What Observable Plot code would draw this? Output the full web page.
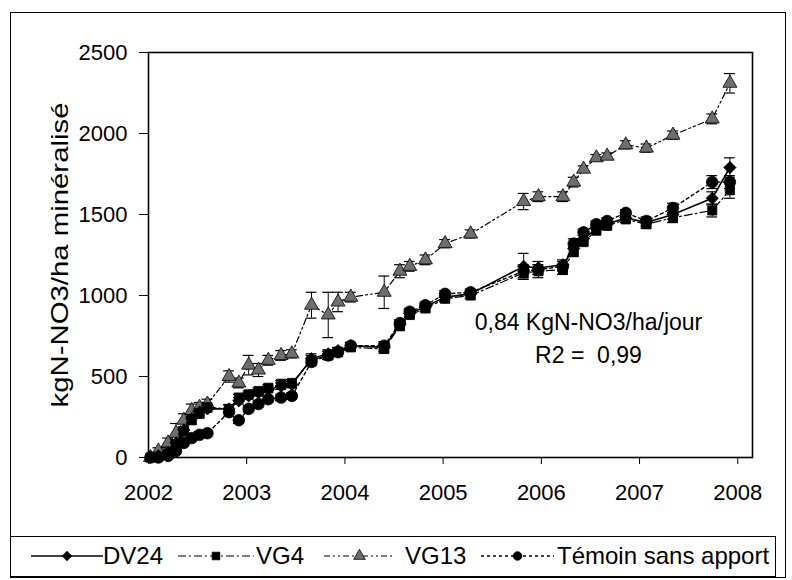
<!DOCTYPE html>
<html>
<head>
<meta charset="utf-8">
<script src="https://cdn.jsdelivr.net/npm/d3@7"></script>
<script src="https://cdn.jsdelivr.net/npm/@observablehq/plot@0.6"></script>
<style>
  html, body { margin: 0; padding: 0; background: #fff; }
  body { width: 792px; height: 580px; position: relative; overflow: hidden; font-family: "Liberation Sans", Arial, sans-serif; }
  #chart { position: absolute; left: 0; top: 0; }
  #outer { position: absolute; left: 10px; top: 12px; width: 776px; height: 566px; border: 1.5px solid #000; box-sizing: border-box; pointer-events: none; }
  #legend { position: absolute; left: 10px; top: 536px; width: 766px; height: 41px; border: 1.5px solid #000; box-sizing: border-box; background: #fff; }
  .lg { position: absolute; top: 0; height: 38px; line-height: 38px; font-family: "Liberation Sans", Arial, sans-serif; font-size: 24px; color: #000; white-space: nowrap; }
  .sw { position: absolute; top: 0; }
</style>
</head>
<body>
<div id="chart"></div>
<div id="outer"></div>
<div id="legend"></div>
<script>
// ---- data ----
const dates  = [2002.02, 2002.1, 2002.2, 2002.28, 2002.36, 2002.44, 2002.52, 2002.6, 2002.82, 2002.92, 2003.02, 2003.12, 2003.22, 2003.35, 2003.46, 2003.66, 2003.83, 2003.93, 2004.06, 2004.4, 2004.56, 2004.66, 2004.82, 2005.02, 2005.28, 2005.82, 2005.97, 2006.22, 2006.33, 2006.43, 2006.56, 2006.67, 2006.86, 2007.07, 2007.34, 2007.74, 2007.92];
const dv24   = [0, 10, 30, 90, 170, 240, 280, 300, 300, 350, 380, 400, 420, 440, 450, 610, 640, 660, 690, 680, 820, 890, 930, 990, 1010, 1180, 1170, 1190, 1290, 1350, 1410, 1440, 1480, 1450, 1500, 1600, 1790];
const vg4    = [0, 5, 25, 80, 160, 230, 270, 310, 300, 370, 390, 410, 430, 455, 460, 600, 630, 650, 680, 670, 810, 880, 920, 980, 1000, 1140, 1150, 1160, 1270, 1330, 1400, 1430, 1470, 1440, 1480, 1525, 1650];
const vg13   = [0, 40, 90, 150, 230, 290, 310, 330, 500, 460, 570, 540, 600, 630, 640, 940, 880, 960, 990, 1020, 1150, 1180, 1220, 1320, 1380, 1580, 1610, 1610, 1700, 1780, 1850, 1860, 1930, 1910, 1990, 2090, 2310];
const temoin = [0, 0, 10, 40, 90, 120, 140, 150, 280, 230, 300, 330, 360, 370, 380, 590, 630, 650, 690, 690, 830, 900, 940, 1010, 1020, 1150, 1160, 1180, 1320, 1390, 1440, 1460, 1510, 1460, 1540, 1700, 1700];
const dv24Err   = [0, 10, 15, 20, 20, 25, 20, 20, 25, 20, 20, 20, 20, 20, 20, 30, 25, 20, 20, 25, 20, 20, 20, 20, 20, 80, 40, 30, 30, 20, 20, 20, 20, 25, 30, 40, 60];
const vg4Err    = [0, 10, 15, 20, 20, 25, 20, 20, 25, 20, 20, 20, 20, 20, 20, 30, 25, 20, 20, 25, 20, 20, 20, 20, 20, 40, 40, 30, 30, 20, 20, 20, 20, 25, 30, 40, 50];
const vg13Err   = [0, 20, 30, 60, 40, 40, 30, 30, 35, 30, 60, 40, 30, 30, 25, 80, 140, 60, 30, 100, 40, 30, 30, 25, 25, 50, 30, 30, 30, 20, 20, 20, 25, 25, 25, 30, 60];
const temoinErr = [0, 5, 10, 20, 20, 20, 20, 20, 25, 20, 20, 20, 20, 20, 20, 25, 25, 20, 20, 25, 20, 20, 20, 20, 20, 40, 30, 30, 30, 20, 20, 20, 20, 25, 30, 40, 40];

const seriesNames = ["DV24", "VG4", "VG13", "Témoin sans apport"];
const xTicks = [2002, 2003, 2004, 2005, 2006, 2007, 2008];
const yTicks = [0, 500, 1000, 1500, 2000, 2500];
const yLabel = "kgN-NO3/ha minéralisé";
const noteText = ["0,84 KgN-NO3/ha/jour", "R2 =\u00a0 0,99"];

// ---- build tidy tables ----
function table(vals, errs) {
  return dates.map((x, i) => ({x, y: vals[i], e: errs[i]}));
}
const tDV = table(dv24, dv24Err);
const tVG4 = table(vg4, vg4Err);
const tVG13 = table(vg13, vg13Err);
const tT = table(temoin, temoinErr);

const styles = [
  {data: tDV,   dash: null,          sw: 1.6, symbol: "diamond2", fill: "#000", r: 5.5},
  {data: tVG4,  dash: "8,3,2,3",     sw: 1.2, symbol: "square",   fill: "#000", r: 5.2},
  {data: tVG13, dash: "6,3,2,3,2,3", sw: 1.2, symbol: "triangle", fill: "#6e6e6e", r: 5.2},
  {data: tT,    dash: "3,3",         sw: 1.4, symbol: "circle",   fill: "#000", r: 5.8}
];

function errMarks(data) {
  const d = data.filter(p => p.e > 0);
  return [
    Plot.ruleX(d, {x: "x", y1: p => p.y - p.e, y2: p => p.y + p.e, stroke: "#000", strokeWidth: 1}),
    Plot.ruleY(d, {y: p => p.y + p.e, x1: p => p.x - 0.055, x2: p => p.x + 0.055, stroke: "#000", strokeWidth: 1.2}),
    Plot.ruleY(d, {y: p => p.y - p.e, x1: p => p.x - 0.055, x2: p => p.x + 0.055, stroke: "#000", strokeWidth: 1.2})
  ];
}

const marks = [];
for (const s of [styles[2], styles[3], styles[1], styles[0]]) {
  marks.push(...errMarks(s.data));
  marks.push(Plot.line(s.data, {x: "x", y: "y", stroke: "#000", strokeWidth: s.sw, strokeDasharray: s.dash}));
  marks.push(Plot.dot(s.data, {x: "x", y: "y", symbol: () => s.symbol, r: s.r, fill: s.fill, stroke: "#000", strokeWidth: 0.8}));
}

const chart = Plot.plot({
  width: 792,
  height: 520,
  marginLeft: 148,
  marginRight: 40,
  marginTop: 52,
  marginBottom: 63,
  style: {fontFamily: '"Liberation Sans", Arial, sans-serif', fontSize: "22px", background: "transparent", overflow: "visible", color: "#000"},
  x: {domain: [2002, 2008.15]},
  y: {domain: [0, 2500]},
  symbol: {type: "identity"},
  marks: [
    Plot.axisX({ticks: xTicks, tickFormat: d => String(d), tickSize: 7, tickPadding: 20, label: null, fontSize: 22}),
    Plot.axisY({ticks: yTicks, tickFormat: d => String(d), tickSize: 9, tickPadding: 12, label: null, fontSize: 22}),
    Plot.text([yLabel], {frameAnchor: "left", text: d => d, rotate: -90, dx: -88, fontSize: 24, fill: "#000", className: "ylab"}),
    ...marks,
    Plot.text([noteText.join("\n")], {x: () => 2006.48, y: () => 750, text: d => d, fontSize: 23, lineHeight: 1.45, fill: "#000", lineAnchor: "middle"}),
    Plot.frame({stroke: "#000", strokeWidth: 1.6})
  ]
});
document.getElementById("chart").appendChild(chart);
// stretch the y label to the reference's length, keeping it centred on the frame
const labelLen = 305;
d3.select(chart).selectAll("g.ylab text")
  .attr("text-anchor", "start")
  .attr("x", -labelLen / 2)
  .attr("textLength", labelLen)
  .attr("lengthAdjust", "spacingAndGlyphs");

// ---- legend ----
const legend = document.getElementById("legend");
const lgPos = [
  {sw: [20, 92], tx: 92},
  {sw: [167, 243], tx: 245},
  {sw: [313, 384], tx: 394},
  {sw: [470, 543], tx: 546}
];
const typeMap = {diamond2: d3.symbolDiamond2, square: d3.symbolSquare, triangle: d3.symbolTriangle, circle: d3.symbolCircle};
seriesNames.forEach((name, i) => {
  const st = styles[i];
  const p = lgPos[i];
  const w = p.sw[1] - p.sw[0];
  const svg = d3.create("svg").attr("class", "sw").attr("width", w).attr("height", 38)
    .style("left", p.sw[0] + "px");
  svg.append("line").attr("x1", 0).attr("x2", w).attr("y1", 19).attr("y2", 19)
    .attr("stroke", "#000").attr("stroke-width", st.sw)
    .attr("stroke-dasharray", st.dash);
  svg.append("path").attr("transform", `translate(${w / 2},19)`)
    .attr("d", d3.symbol(typeMap[st.symbol], Math.PI * 4.3 * 4.3)())
    .attr("fill", st.fill).attr("stroke", "#000").attr("stroke-width", 0.8);
  legend.appendChild(svg.node());
  const t = document.createElement("div");
  t.className = "lg";
  t.style.left = p.tx + "px";
  t.textContent = name;
  legend.appendChild(t);
});
</script>
</body>
</html>
